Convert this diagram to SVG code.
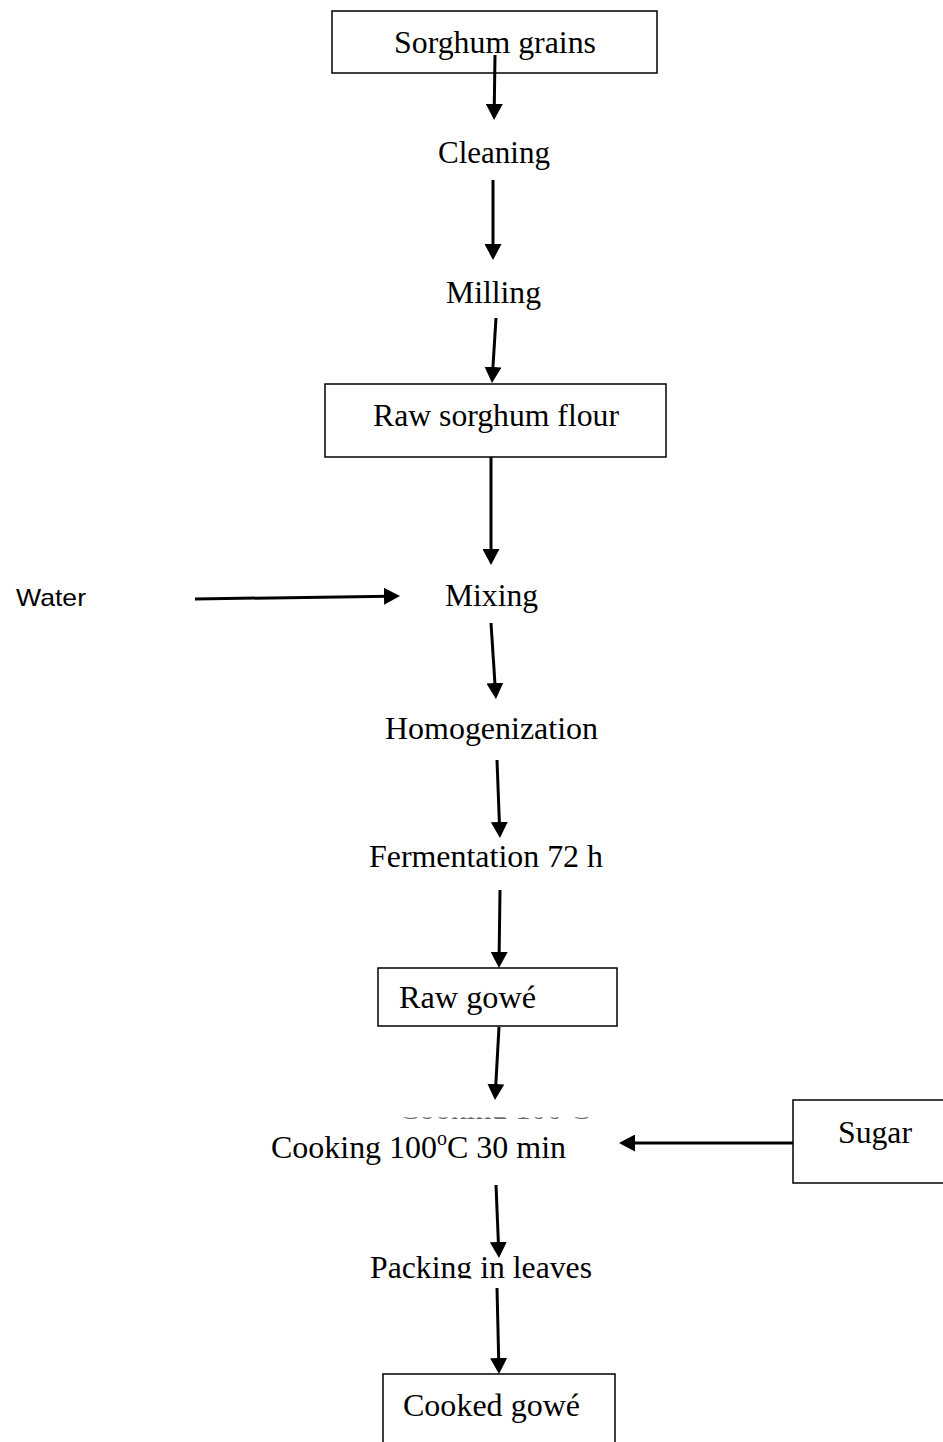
<svg xmlns="http://www.w3.org/2000/svg" width="943" height="1442" viewBox="0 0 943 1442">
<style>
.box{fill:#fff;stroke:#000;stroke-width:1.5}
.t{font-family:"Liberation Serif","Times New Roman",serif;font-size:32px;fill:#000}
.s{font-family:"Liberation Sans",Arial,sans-serif;font-size:24px;fill:#000}
.c{fill:none;stroke:#000;stroke-width:3}
</style>
<defs>
<marker id="ah" viewBox="0 0 16 17" refX="6" refY="8.5" markerWidth="16" markerHeight="17" markerUnits="userSpaceOnUse" orient="auto">
<path d="M0,0 L16,8.5 L0,17 z" fill="#000"/>
</marker>
<clipPath id="fragClip"><rect x="380" y="1117.3" width="230" height="1.6"/></clipPath>
<clipPath id="packClip"><rect x="300" y="1240" width="360" height="38.5"/></clipPath>
</defs>
<rect width="943" height="1442" fill="#fff"/>
<g id="n1"><rect class="box" x="332" y="11" width="325" height="62"/><text class="t" x="394" y="53" textLength="202" lengthAdjust="spacingAndGlyphs">Sorghum grains</text></g>
<g id="n2"><text class="t" x="438" y="163" textLength="112" lengthAdjust="spacingAndGlyphs">Cleaning</text></g>
<g id="n3"><text class="t" x="446" y="303" textLength="95" lengthAdjust="spacingAndGlyphs">Milling</text></g>
<g id="n4"><rect class="box" x="325" y="384" width="341" height="73"/><text class="t" x="373" y="426" textLength="246" lengthAdjust="spacingAndGlyphs">Raw sorghum flour</text></g>
<g id="water"><text class="s" x="16" y="606" textLength="70" lengthAdjust="spacingAndGlyphs">Water</text></g>
<g id="n5"><text class="t" x="445" y="606" textLength="93" lengthAdjust="spacingAndGlyphs">Mixing</text></g>
<g id="n6"><text class="t" x="385" y="739" textLength="213" lengthAdjust="spacingAndGlyphs">Homogenization</text></g>
<g id="n7"><text class="t" x="369" y="867" textLength="234" lengthAdjust="spacingAndGlyphs">Fermentation 72 h</text></g>
<g id="n8"><rect class="box" x="378" y="968" width="239" height="58"/><text class="t" x="399" y="1008" textLength="137" lengthAdjust="spacingAndGlyphs">Raw gowé</text></g>
<g id="n9">
<text class="t" x="398" y="1119" font-size="20" clip-path="url(#fragClip)" fill-opacity="0.6" textLength="192" lengthAdjust="spacingAndGlyphs">Cooking 100<tspan font-size="13" dy="-8">o</tspan><tspan dy="8">C</tspan></text>
<text class="t" x="271" y="1158" textLength="295" lengthAdjust="spacingAndGlyphs">Cooking 100<tspan font-size="20" dy="-13">o</tspan><tspan dy="13">C 30 min</tspan></text>
</g>
<g id="sugar"><rect class="box" x="793" y="1100" width="160" height="83"/><text class="t" x="838" y="1143" textLength="74" lengthAdjust="spacingAndGlyphs">Sugar</text></g>
<g id="n10"><text class="t" x="370" y="1278" clip-path="url(#packClip)" textLength="222" lengthAdjust="spacingAndGlyphs">Packing in leaves</text></g>
<g id="n11"><rect class="box" x="383" y="1374" width="232" height="80"/><text class="t" x="403" y="1416" textLength="177" lengthAdjust="spacingAndGlyphs">Cooked gowé</text></g>
<g id="connectors">
<line class="c" x1="495" y1="55" x2="494.2" y2="110" marker-end="url(#ah)"/>
<line class="c" x1="493" y1="180" x2="493" y2="250" marker-end="url(#ah)"/>
<line class="c" x1="496" y1="318" x2="492.6" y2="373" marker-end="url(#ah)"/>
<line class="c" x1="491" y1="457" x2="491" y2="555" marker-end="url(#ah)"/>
<line class="c" x1="195" y1="599" x2="390" y2="596.2" marker-end="url(#ah)"/>
<line class="c" x1="491" y1="623" x2="495.3" y2="689" marker-end="url(#ah)"/>
<line class="c" x1="497" y1="760" x2="499.6" y2="828" marker-end="url(#ah)"/>
<line class="c" x1="500" y1="890" x2="499.1" y2="958" marker-end="url(#ah)"/>
<line class="c" x1="499" y1="1027" x2="495.5" y2="1090" marker-end="url(#ah)"/>
<line class="c" x1="793" y1="1143" x2="629" y2="1143" marker-end="url(#ah)"/>
<line class="c" x1="496" y1="1185" x2="498.6" y2="1248" marker-end="url(#ah)"/>
<line class="c" x1="497" y1="1288" x2="498.8" y2="1364" marker-end="url(#ah)"/>
</g>
</svg>
